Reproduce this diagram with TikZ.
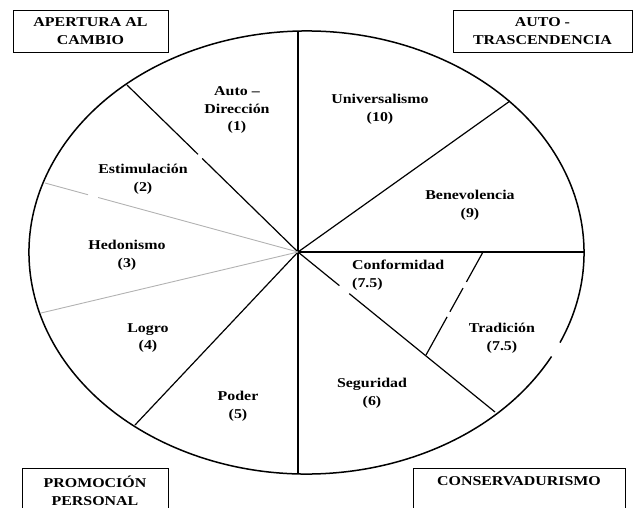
\documentclass[tikz,border=0pt]{standalone}
\usepackage{fontspec}
\setmainfont[FakeStretch=1.18]{Liberation Serif}
\usetikzlibrary{calc}
\begin{document}
\begin{tikzpicture}[x=1pt, y=-1pt,
    value/.style={font=\bfseries\fontsize{13.5}{17.5}\selectfont, align=center, inner sep=0pt},
    groupbox/.style={draw, line width=1pt, font=\bfseries\fontsize{13.5}{18}\selectfont, align=center, inner sep=0pt, minimum height=42pt},
    ray/.style={line width=1.2pt},
    lightray/.style={black!30, line width=0.9pt}]
    \useasboundingbox (0,0) rectangle (633,507);
    \clip (0,0) rectangle (633,507);

    % Outer ellipse (small break on the right)
    \draw[line width=1.5pt] (306.5,252.5) ++(28:277.5 and 221.5)
        arc[start angle=28, end angle=384, x radius=277.5, y radius=221.5];

    % Hub and rim points
    \coordinate (hub) at (298,252);
    \coordinate (top) at (298,31);
    \coordinate (ul) at (127,85);
    \coordinate (l1) at (45,183);
    \coordinate (l2) at (41,313);
    \coordinate (ll) at (135,425);
    \coordinate (bottom) at (298,474);
    \coordinate (right) at (584,252);
    \coordinate (ur) at (510,101);
    \coordinate (lr) at (495,412);
    \coordinate (tradtop) at (483,252);
    \coordinate (tradend) at (426,355);

    % Solid rays
    \foreach \p in {top,ur,right,bottom,ll}
        \draw[ray] (hub) -- (\p);

    % Rays with a break
    \draw[ray] (hub) -- ($(hub)!0.56!(ul)$) ($(hub)!0.585!(ul)$) -- (ul);
    \draw[ray] (hub) -- ($(hub)!0.21!(lr)$) ($(hub)!0.26!(lr)$) -- (lr);
    \draw[lightray] (hub) -- ($(hub)!0.79!(l1)$) ($(hub)!0.83!(l1)$) -- (l1);
    \draw[lightray] (hub) -- (l2);

    % Tradicion divider
    \draw[ray] (tradtop) -- ($(tradtop)!0.29!(tradend)$)
        ($(tradtop)!0.35!(tradend)$) -- ($(tradtop)!0.58!(tradend)$)
        ($(tradtop)!0.63!(tradend)$) -- (tradend);

    % Values
    \node[value] (autodir) at (237,110) {Auto --\\Dirección\\(1)};
    \node[value] (estim) at (143,179) {Estimulación\\(2)};
    \node[value] (hedon) at (127,255) {Hedonismo\\(3)};
    \node[value] (logro) at (148,338) {Logro\\(4)};
    \node[value] (poder) at (238,406) {Poder\\(5)};
    \node[value] (univ) at (380,109) {Universalismo\\(10)};
    \node[value] (benev) at (470,205) {Benevolencia\\(9)};
    \node[value, align=left, anchor=west] (conf) at (352,275) {Conformidad\\(7.5)};
    \node[value] (trad) at (502,338) {Tradición\\(7.5)};
    \node[value] (segur) at (372,393) {Seguridad\\(6)};

    % Higher-order groups
    \node[groupbox, minimum width=155pt] (apertura) at (90.5,31) {APERTURA AL\\CAMBIO};
    \node[groupbox, minimum width=179pt] (autotras) at (542.5,31) {AUTO -\\TRASCENDENCIA};
    \node[groupbox, minimum width=146pt, minimum height=44pt, anchor=north] (promocion) at (95,468) {PROMOCIÓN\\PERSONAL};
    \node[groupbox, minimum width=212pt, minimum height=44pt, anchor=north] (conserv) at (519,468) {CONSERVADURISMO\\~};
\end{tikzpicture}
\end{document}
